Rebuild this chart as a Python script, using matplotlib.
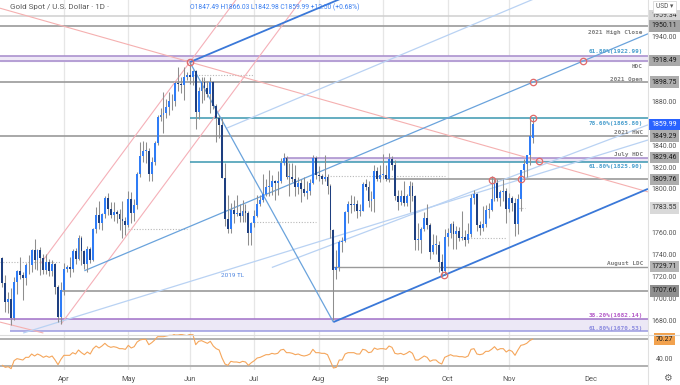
import matplotlib
matplotlib.use("Agg")
import matplotlib.pyplot as plt
import numpy as np
import pandas as pd

plt.rcParams['font.family'] = ['Roboto', 'DejaVu Sans']

# ---------------- data ----------------
dates = pd.bdate_range('2021-03-03', '2021-11-11')

opens = [1738,1715,1697,1700,1683,1716,1726,1722,1719,1731,1731,1745,1736,1745,1738,1727,1734,1726,1732,1711,1684,
         1708,1728,1729,1728,1744,1737,1756,1744,1732,1746,1736,1764,1777,1770,1778,1793,1783,1777,1780,1778,1773,1772,
         1768,1792,1779,1786,1815,1831,1836,1836,1815,1826,1843,1867,1869,1870,1876,1881,1881,1898,1897,1896,1903,
         1905,1903,1909,1871,1891,1899,1893,1888,1899,1877,1866,1859,1811,1773,1764,1782,1778,1779,1776,1781,1779,1761,
         1770,1776,1787,1791,1796,1803,1803,1808,1806,1808,1825,1829,1812,1812,1810,1803,1806,1801,1797,1799,1806,1829,
         1814,1813,1810,1812,1804,1763,1727,1729,1752,1753,1780,1787,1786,1787,1781,1781,1805,1803,1790,1792,1817,1810,
         1814,1814,1810,1828,1823,1794,1789,1794,1788,1794,1804,1794,1754,1754,1764,1774,1768,1743,1750,1750,1734,1726,
         1757,1761,1769,1760,1762,1756,1757,1754,1760,1793,1796,1768,1765,1769,1782,1782,1792,1806,1793,1798,1799,
         1783,1793,1788,1769,1792,1818,1824,1832,1847.49]
highs = [1739,1722,1707,1710,1720,1727,1739,1725,1733,1740,1746,1755,1746,1748,1741,1741,1737,1736,1733,1713,1716,
         1733,1731,1739,1746,1747,1759,1758,1745,1749,1748,1765,1784,1790,1779,1794,1797,1789,1789,1782,1783,1790,1775,
         1799,1798,1792,1816,1844,1845,1844,1838,1830,1845,1869,1875,1890,1883,1890,1888,1900,1913,1903,1913,1908,
         1917,1910,1910,1894,1903,1903,1900,1903,1900,1879,1869,1866,1825,1795,1788,1791,1795,1787,1791,1787,1781,1771,
         1782,1795,1795,1815,1810,1818,1814,1809,1817,1829,1834,1831,1825,1825,1823,1812,1810,1812,1808,1810,1832,1831,
         1822,1815,1832,1815,1805,1764,1745,1754,1757,1781,1790,1795,1794,1791,1787,1807,1810,1808,1799,1823,1821,1823,
         1833,1823,1834,1831,1827,1800,1800,1808,1796,1808,1807,1795,1770,1766,1780,1787,1770,1760,1759,1753,1741,1764,
         1765,1770,1772,1767,1766,1781,1763,1770,1796,1800,1797,1772,1785,1786,1788,1813,1810,1810,1800,1810,1802,
         1797,1794,1793,1796,1818,1828,1832,1868,1866.03]
lows = [1711,1688,1687,1676,1681,1705,1718,1699,1713,1723,1725,1728,1727,1722,1723,1723,1721,1721,1705,1679,1677,
        1704,1725,1720,1725,1732,1736,1731,1728,1725,1733,1735,1761,1764,1763,1774,1777,1774,1772,1770,1763,1756,1759,
        1766,1770,1772,1783,1812,1826,1825,1808,1808,1823,1841,1863,1852,1866,1869,1873,1877,1891,1889,1882,1901,
        1897,1896,1856,1865,1880,1882,1885,1870,1874,1844,1848,1811,1767,1761,1761,1770,1776,1771,1771,1771,1750,1750,
        1766,1775,1785,1789,1794,1794,1795,1791,1795,1806,1823,1810,1794,1807,1794,1796,1789,1794,1792,1795,1805,1810,
        1808,1805,1808,1796,1756,1681,1718,1726,1743,1752,1770,1779,1781,1774,1776,1781,1800,1784,1781,1780,1808,1807,
        1810,1808,1807,1818,1791,1782,1786,1785,1785,1780,1790,1745,1745,1742,1762,1764,1737,1741,1741,1725,1721,1722,
        1749,1756,1746,1746,1753,1754,1749,1751,1757,1787,1762,1759,1762,1766,1774,1781,1790,1790,1785,1790,1770,
        1780,1781,1758,1760,1781,1810,1812,1823,1842.98]
closes = [1715,1697,1700,1683,1716,1726,1722,1719,1731,1731,1745,1736,1745,1738,1727,1734,1726,1732,1711,1684,1708,
          1728,1729,1728,1744,1737,1756,1744,1732,1746,1736,1764,1777,1770,1778,1793,1783,1777,1780,1778,1773,1772,1768,
          1792,1779,1786,1815,1831,1836,1836,1815,1826,1843,1867,1869,1870,1876,1881,1881,1898,1897,1896,1903,1905,
          1903,1909,1871,1891,1899,1893,1888,1899,1877,1866,1859,1811,1773,1764,1782,1778,1779,1776,1781,1779,1761,1770,
          1776,1787,1791,1796,1803,1803,1808,1806,1808,1825,1829,1812,1812,1810,1803,1806,1801,1797,1799,1806,1829,1814,
          1813,1810,1812,1804,1763,1727,1729,1752,1753,1780,1787,1786,1787,1781,1781,1805,1803,1790,1792,1817,1810,1814,
          1814,1810,1828,1823,1794,1789,1794,1788,1794,1804,1794,1754,1754,1764,1774,1768,1743,1750,1750,1734,1726,1757,
          1761,1769,1760,1762,1756,1757,1754,1760,1793,1796,1768,1765,1769,1782,1782,1792,1806,1793,1798,1799,1783,
          1793,1788,1769,1792,1818,1824,1832,1849,1859.99]
rsi = [31,28,29,26,38,41,40,39,43,43,48,45,48,46,43,45,43,45,39,32,40,
       46,46,46,50,48,54,50,47,51,48,56,60,57,60,64,60,58,59,58,56,56,55,
       61,57,59,66,69,70,70,62,65,69,74,74,74,75,76,76,78,78,77,78,79,
       77,78,62,67,68,66,64,67,60,56,54,42,33,31,37,36,36,35,37,36,31,35,
       38,42,43,45,47,47,49,48,49,54,55,50,50,49,47,48,46,45,46,48,55,50,
       50,49,49,47,37,27,28,39,39,48,50,50,50,48,48,55,54,50,51,57,55,56,
       56,55,60,58,49,48,49,47,49,52,49,39,39,42,45,43,37,39,39,35,33,43,
       45,47,45,45,44,44,43,45,55,56,48,47,48,52,52,55,59,54,56,56,51,
       54,52,46,54,61,62,64,68,70.27]

# key horizontal levels
lvl_2021_high_close_top = 1959.34
lvl_2021_high_close = 1950.11
fib_618_top = 1922.99
lvl_hdc = 1918.49
lvl_2021_open = 1898.75
fib_786 = 1865.80
lvl_last = 1859.99
lvl_hwc = 1849.29
lvl_july_hdc = 1829.46
fib_618_mid = 1825.90
lvl_1809 = 1809.76
lvl_1783 = 1783.55
lvl_aug_ldc = 1729.71
lvl_1707 = 1707.66
fib_382_low = 1682.14
fib_618_low = 1670.53
rsi_last = 70.27

price_ticks = [1940, 1880, 1840, 1820, 1800, 1760, 1740, 1720, 1700, 1680]

# trend lines (bar index, price)
tl_dark_up = [(64, 1917), (130, 1991.4)]
tl_dark_support = [(113, 1679), (220.4, 1801)]
tl_drop = [(64, 1917), (113, 1679)]
tl_channel = [(28, 1726), (220.4, 1943)]
tl_channel_upper = [(76.7, 1856.7), (220.4, 2018.8)]
tl_2019 = [(7.1, 1669), (220.4, 1845.7)]
tl_light2 = [(92, 1729), (220.4, 1859.6)]
pk_desc = [(-0.8, 1966.4), (220.4, 1798.2)]
pk_a = [(20, 1677), (102, 1974)]
pk_b = [(12.9, 1732), (80, 1975)]
pk_short = [(-0.8, 1679), (14, 1669)]

rings = [(64, 1917.1), (198.2, 1918.49), (181.1, 1898.75), (181, 1865.8),
         (183.2, 1826.6), (167.1, 1809.5), (177, 1810), (150.7, 1722)]

dotted = [(1734, -0.8, 20), (1764, 43, 63), (1905, 65, 86), (1771, 86, 107),
          (1812.5, 108, 151), (1756, 159, 172), (1783.55, 176.5, 178.5)]

# ---------------- figure ----------------
W, H = 680, 385
fig = plt.figure(figsize=(W / 100, H / 100), dpi=100)
fig.patch.set_facecolor('white')
main_bot, main_top = 334, 0
rsi_top, rsi_bot = 334, 370
right = 648
ax = fig.add_axes([0, (H - main_bot) / H, right / W, (main_bot - main_top) / H])
axr = fig.add_axes([0, (H - rsi_bot) / H, right / W, (rsi_bot - rsi_top) / H], sharex=ax)

xlim = (-0.8, 220.4)
ax.set_xlim(*xlim)
ax.set_ylim(1668.1, 1973.9)
axr.set_ylim(24, 78)
for a in (ax, axr):
    for s in a.spines.values():
        s.set_visible(False)
    a.set_yticks([])
    a.tick_params(axis='x', length=0)
ax.tick_params(axis='x', labelbottom=False)

n = len(closes)
idx = np.arange(n)
o = np.array(opens, float); h = np.array(highs, float)
l = np.array(lows, float); c = np.array(closes, float)

# month ticks
month_pos, month_lab = [], []
for m in range(4, 12):
    first = np.where((dates.month == m))[0][0]
    month_pos.append(first)
    month_lab.append(dates[first].strftime('%b'))
dec_pos = (n - 1) + (pd.Timestamp('2021-12-01') - dates[-1]).days
grid_pos = list(month_pos)
month_pos.append(dec_pos); month_lab.append('Dec')

for p in grid_pos:
    ax.axvline(p, color='#e6e6e6', lw=0.9, zorder=0)
    axr.axvline(p, color='#e6e6e6', lw=0.9, zorder=0)

axr.set_xticks(month_pos)
axr.set_xticklabels(month_lab)
axr.tick_params(axis='x', labelsize=5.4, colors='#555555', pad=4.5)

# fills / bands
ax.axhspan(lvl_hdc, fib_618_top, color='#eee8f6', zorder=1)
ax.fill_between([96.5, xlim[1]], fib_618_mid, lvl_july_hdc, color='#eee8f6', zorder=1, lw=0)
ax.fill_between([2.6, xlim[1]], fib_618_low, fib_382_low, color='#ece8f6', zorder=1, lw=0)

grey = '#9a9a9a'
ax.axhline(lvl_2021_high_close_top, color='#cfcfcf', lw=1.1, zorder=2)
ax.axhline(lvl_2021_high_close, color=grey, lw=1.2, zorder=2)
ax.axhline(fib_618_top, color='#a58bcb', lw=1.1, zorder=2)
ax.axhline(lvl_hdc, color='#a58bcb', lw=1.1, zorder=2)
ax.axhline(lvl_2021_open, color=grey, lw=1.2, zorder=2)
ax.hlines(fib_786, 64, xlim[1], color='#3b97b0', lw=1.1, zorder=2)
ax.axhline(lvl_hwc, color=grey, lw=1.2, zorder=2)
ax.hlines(lvl_july_hdc, 96.5, xlim[1], color='#a58bcb', lw=1.1, zorder=2)
ax.hlines(fib_618_mid, 64, xlim[1], color='#3b97b0', lw=1.1, zorder=2)
ax.hlines(lvl_1809, 131, xlim[1], color=grey, lw=1.2, zorder=2)
ax.hlines(lvl_aug_ldc, 113, xlim[1], color=grey, lw=1.0, zorder=2)
ax.hlines(lvl_1707, 20, xlim[1], color=grey, lw=1.2, zorder=2)
ax.axhline(fib_382_low, color='#a070c8', lw=1.1, zorder=2)
ax.hlines(fib_618_low, 2.6, xlim[1], color='#9a9ae0', lw=1.1, zorder=2)

for y, a0, a1 in dotted:
    ax.hlines(y, a0, a1, color='#b8b8b8', lw=0.8, linestyles=(0, (1, 1.5)), zorder=2)

def seg(pts, color, lw, z=3):
    (x0, y0), (x1, y1) = pts
    ax.plot([x0, x1], [y0, y1], color=color, lw=lw, zorder=z, solid_capstyle='butt')

seg(pk_desc, '#f5b0b0', 0.8)
seg(pk_a, '#f5b0b8', 0.8)
seg(pk_b, '#f5b0b8', 0.8)
seg(pk_short, '#f5b0b0', 0.8)
seg(tl_2019, '#b9d2f3', 0.9)
seg(tl_light2, '#b9d2f3', 0.9)
seg(tl_channel_upper, '#b9d2f3', 0.9)
seg(tl_channel, '#6aa3dc', 0.9)
seg(tl_drop, '#6aa3dc', 0.9)
seg(tl_dark_up, '#3a78d8', 1.3)
seg(tl_dark_support, '#3a78d8', 1.3)

# candles
ax.vlines(idx, l, h, color='#8e8e8e', lw=0.75, zorder=4)
up = c >= o
body = np.maximum(np.abs(c - o), 0.7)
ax.bar(idx[up], body[up], bottom=o[up], width=0.64, color='#2f7cf6', lw=0, zorder=5)
ax.bar(idx[~up], body[~up], bottom=c[~up], width=0.64, color='#1e3f80', lw=0, zorder=5)

for rx, ry in rings:
    ax.plot(rx, ry, 'o', ms=4.6, mfc='none', mec='#e06a6a', mew=0.9, zorder=6)

ax.text(78.7, 1722.1, '2019 TL', fontsize=4.6, color='#4f86e0', ha='center', va='center', zorder=6)

# level labels inside chart
lt = ax.get_yaxis_transform()
mono = dict(family='DejaVu Sans Mono', fontweight='bold', fontsize=4.3)
lab_grey = '#7d7d7d'
for y, s, col in [(1944.6, '2021 High Close', lab_grey),
                  (1926.3, '61.80%(1922.99)', '#4a9fce'),
                  (1913.4, 'HDC', lab_grey),
                  (1901.5, '2021 Open', lab_grey),
                  (1860.5, '78.60%(1865.80)', '#4a9fce'),
                  (1852.7, '2021 HWC', lab_grey),
                  (1832.9, 'July HDC', lab_grey),
                  (1821.3, '61.80%(1825.90)', '#4a9fce'),
                  (1732.8, 'August LDC', lab_grey),
                  (1684.6, '38.20%(1682.14)', '#b45ac8'),
                  (1673.3, '61.80%(1670.53)', '#8c8ce0')]:
    ax.text(0.992, y, s, transform=lt, ha='right', va='center', color=col, zorder=7, **mono)

# right price scale
xr = 664.5 / right
for v in price_ticks:
    ax.text(xr, v, f'{v:.2f}', transform=lt, ha='center', va='center', fontsize=5, color='#555555')

boxes = [(lvl_2021_high_close_top, '#d4d4d4', '#333333'),
         (lvl_2021_high_close, '#a3a3a3', '#1a1a1a'),
         (lvl_hdc, '#a8a8a8', '#1a1a1a'),
         (lvl_2021_open, '#adadad', '#1a1a1a'),
         (lvl_last, '#2962ff', 'white'),
         (lvl_hwc, '#adadad', '#1a1a1a'),
         (lvl_july_hdc, '#adadad', '#1a1a1a'),
         (lvl_1809, '#adadad', '#1a1a1a'),
         (lvl_1783, '#d9d9d9', '#333333'),
         (lvl_aug_ldc, '#b5b5b5', '#1a1a1a'),
         (lvl_1707, '#8f8f8f', '#1a1a1a')]
for v, fc, tc in boxes:
    ax.text(xr, v, f'{v:.2f}', transform=lt, ha='center', va='center', fontsize=5, color=tc,
            bbox=dict(boxstyle='square,pad=0.32', fc=fc, ec='none'), zorder=8)

# RSI panel
axr.plot(idx, rsi, color='#f5a65b', lw=0.8, zorder=3)
axr.axhline(70, color='#b0b0b0', lw=1.4, zorder=2)
axr.axhline(30, color='#b0b0b0', lw=1.4, zorder=2)
rt = axr.get_yaxis_transform()
axr.text(xr, 40, '40.00', transform=rt, ha='center', va='center', fontsize=5, color='#555555')
axr.text(xr, rsi_last, f'{rsi_last:.2f}', transform=rt, ha='center', va='center', fontsize=5,
         color='#1a1a1a', bbox=dict(boxstyle='square,pad=0.32', fc='#f2a24e', ec='none'), zorder=8)

# separators
fig.add_artist(plt.Line2D([0, 1], [(H - 334.5) / H] * 2, color='#dcdcdc', lw=0.8))
fig.add_artist(plt.Line2D([right / W] * 2, [0, 1], color='#e0e0e0', lw=0.8))

# header texts
fig.text(10 / W, 1 - 7 / H, 'Gold Spot / U.S. Dollar \u00b7 1D \u00b7', fontsize=5.8, color='#5a5a5a',
         ha='left', va='center')
fig.text(190 / W, 1 - 7 / H, 'O1847.49 H1866.03 L1842.98 C1859.99 +12.50 (+0.68%)', fontsize=4.9,
         color='#3a7ff0', ha='left', va='center')
fig.text(664.5 / W, 1 - 7 / H, 'USD \u25be', fontsize=4.8, color='#555555', ha='center', va='center',
         family=['Roboto', 'DejaVu Sans'],
         bbox=dict(boxstyle='square,pad=0.4', fc='white', ec='#d8d8d8', lw=0.6))
fig.text(667 / W, 1 - 378 / H, '\u2699', fontsize=7, color='#666666', ha='center', va='center',
         family='DejaVu Sans')

fig.savefig('out.png', dpi=100, facecolor='white')
